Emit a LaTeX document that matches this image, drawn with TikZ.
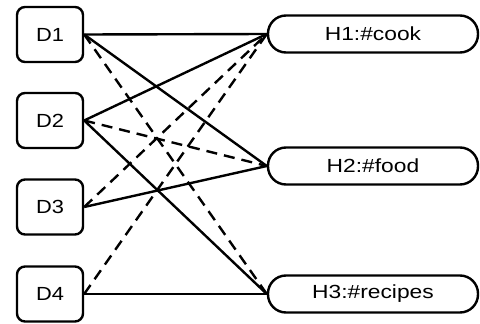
\documentclass[tikz,border=0pt]{standalone}
\usepackage{fontspec}
\setmainfont{Liberation Sans}
\begin{document}
\begin{tikzpicture}[x=1pt,y=-1pt,
  dbox/.style={draw,line width=2.4pt,rounded corners=8pt,minimum width=66pt,minimum height=55pt,inner sep=0pt},
  hbox/.style={draw,line width=2.4pt,rounded corners=18pt,minimum width=210pt,minimum height=37pt,inner sep=0pt},
  solidedge/.style={line width=2.4pt},
  dashedge/.style={line width=2.4pt,dash pattern=on 11pt off 7pt}]
\useasboundingbox (0,0) rectangle (480,324);
\node[dbox] (D1) at (50,34.5) {\scalebox{1.15}[1]{\fontsize{19}{21}\selectfont D1}};
\node[dbox] (D2) at (50,120.5) {\scalebox{1.15}[1]{\fontsize{19}{21}\selectfont D2}};
\node[dbox] (D3) at (50,207) {\scalebox{1.15}[1]{\fontsize{19}{21}\selectfont D3}};
\node[dbox] (D4) at (50,294) {\scalebox{1.15}[1]{\fontsize{19}{21}\selectfont D4}};
\node[hbox] (H1) at (373,34) {\scalebox{1.2}[1]{\fontsize{19}{21}\selectfont H1:\#cook}};
\node[hbox] (H2) at (373,166) {\scalebox{1.2}[1]{\fontsize{19}{21}\selectfont H2:\#food}};
\node[hbox] (H3) at (373,294) {\scalebox{1.2}[1]{\fontsize{19}{21}\selectfont H3:\#recipes}};
\draw[solidedge] (D1.east) -- (H1.west);
\draw[solidedge] (D1.east) -- (H2.west);
\draw[solidedge] (D2.east) -- (H1.west);
\draw[solidedge] (D2.east) -- (H3.west);
\draw[solidedge] (D3.east) -- (H2.west);
\draw[solidedge] (D4.east) -- (H3.west);
\draw[dashedge] (D1.east) -- (H3.west);
\draw[dashedge] (D2.east) -- (H2.west);
\draw[dashedge] (D3.east) -- (H1.west);
\draw[dashedge] (D4.east) -- (H1.west);
\end{tikzpicture}
\end{document}
